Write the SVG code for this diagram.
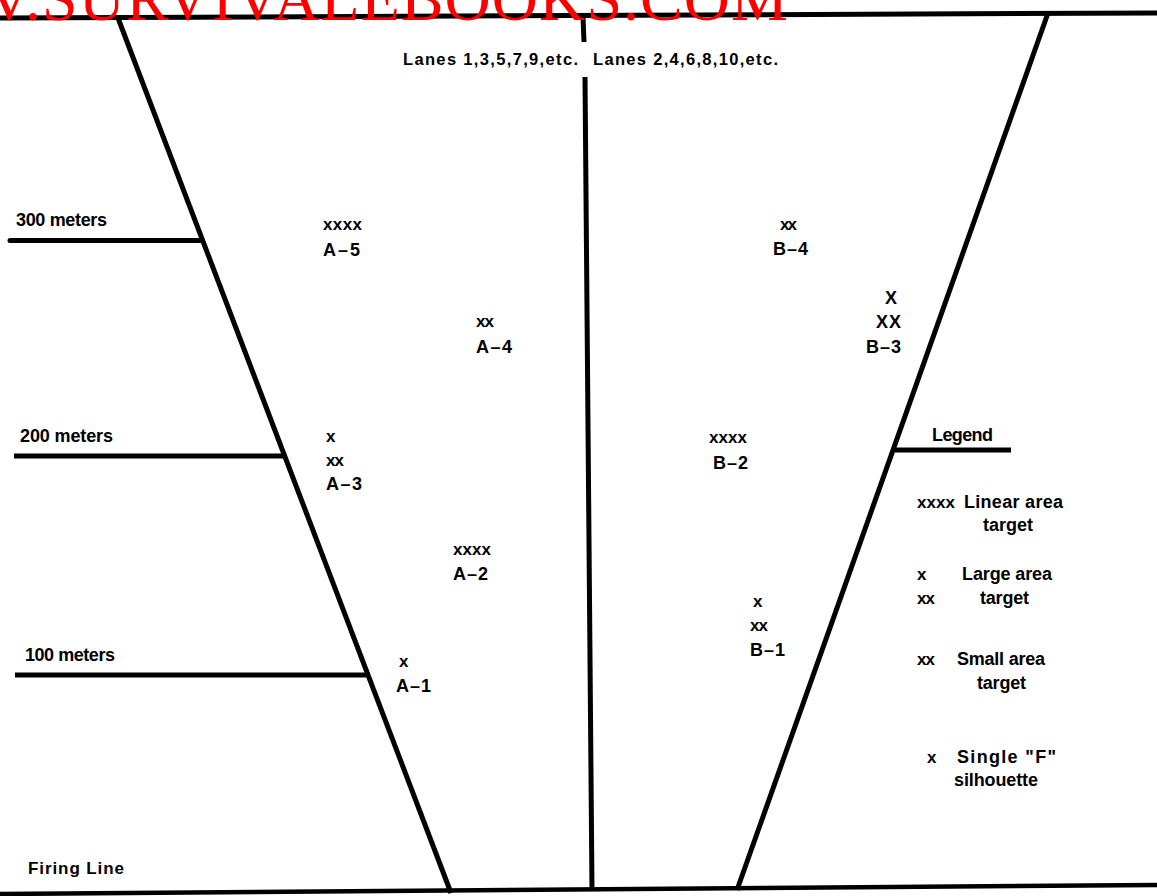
<svg xmlns="http://www.w3.org/2000/svg" width="1157" height="896" viewBox="0 0 1157 896">
<style>
.ln{stroke:#000;stroke-width:5;fill:none;stroke-linecap:butt}
.t{font-family:"Liberation Sans",Arial,sans-serif;font-weight:bold;fill:#000}
.l{font-size:18px}
.s{font-size:17px}
.ln2{font-size:16.5px}
.fl{font-size:17px}
.wm{font-family:"Liberation Serif","Times New Roman",serif;font-size:64px;fill:#ff0000}
</style>
<rect width="1157" height="896" fill="#fff"/>
<g id="frame">
<line class="ln" x1="0" y1="18" x2="1157" y2="13"/>
<line class="ln" x1="0" y1="894" x2="1157" y2="885" style="stroke-width:4.5"/>
<line class="ln" x1="118" y1="18" x2="451" y2="893"/>
<line class="ln" x1="1048" y1="13" x2="737" y2="890"/>
<line class="ln" x1="583" y1="17" x2="584" y2="42"/>
<line class="ln" x1="585" y1="77" x2="592" y2="890"/>
</g>
<g id="lanes">
<text class="t ln2" x="403" y="65" textLength="175" lengthAdjust="spacing">Lanes 1,3,5,7,9,etc.</text>
<text class="t ln2" x="593" y="65" textLength="185" lengthAdjust="spacing">Lanes 2,4,6,8,10,etc.</text>
</g>
<g id="range-300">
<line class="ln" x1="10" y1="240.5" x2="202" y2="240.5" style="stroke-linecap:round"/>
<text class="t l" x="16" y="226" textLength="91" lengthAdjust="spacing">300 meters</text>
</g>
<g id="range-200">
<line class="ln" x1="14" y1="456" x2="285" y2="456"/>
<text class="t l" x="20" y="442" textLength="93" lengthAdjust="spacing">200 meters</text>
</g>
<g id="range-100">
<line class="ln" x1="15" y1="675" x2="367" y2="675"/>
<text class="t l" x="25" y="661" textLength="90" lengthAdjust="spacing">100 meters</text>
</g>
<g id="firing-line">
<text class="t fl" x="28" y="874" textLength="96" lengthAdjust="spacing">Firing Line</text>
</g>
<g id="A5">
<text class="t s" x="323" y="230" textLength="39" lengthAdjust="spacing">xxxx</text>
<text class="t l" x="323" y="256" textLength="37" lengthAdjust="spacing">A–5</text>
</g>
<g id="A4">
<text class="t s" x="476" y="327" textLength="18" lengthAdjust="spacing">xx</text>
<text class="t l" x="476" y="353" textLength="36" lengthAdjust="spacing">A–4</text>
</g>
<g id="A3">
<text class="t s" x="326" y="442">x</text>
<text class="t s" x="326" y="466" textLength="18" lengthAdjust="spacing">xx</text>
<text class="t l" x="326" y="490" textLength="36" lengthAdjust="spacing">A–3</text>
</g>
<g id="A2">
<text class="t s" x="453" y="555" textLength="38" lengthAdjust="spacing">xxxx</text>
<text class="t l" x="453" y="580" textLength="35" lengthAdjust="spacing">A–2</text>
</g>
<g id="A1">
<text class="t s" x="399" y="667">x</text>
<text class="t l" x="396" y="692" textLength="35" lengthAdjust="spacing">A–1</text>
</g>
<g id="B4">
<text class="t s" x="780" y="230" textLength="17" lengthAdjust="spacing">xx</text>
<text class="t l" x="773" y="255" textLength="35" lengthAdjust="spacing">B–4</text>
</g>
<g id="B3">
<text class="t l" x="885" y="304">X</text>
<text class="t l" x="876" y="328" textLength="25" lengthAdjust="spacing">XX</text>
<text class="t l" x="866" y="353" textLength="35" lengthAdjust="spacing">B–3</text>
</g>
<g id="B2">
<text class="t s" x="709" y="443" textLength="38" lengthAdjust="spacing">xxxx</text>
<text class="t l" x="713" y="469" textLength="35" lengthAdjust="spacing">B–2</text>
</g>
<g id="B1">
<text class="t s" x="753" y="607">x</text>
<text class="t s" x="750" y="631" textLength="18" lengthAdjust="spacing">xx</text>
<text class="t l" x="750" y="656" textLength="35" lengthAdjust="spacing">B–1</text>
</g>
<g id="legend">
<line class="ln" x1="892" y1="450" x2="1011" y2="450"/>
<text class="t l" x="932" y="441" textLength="61" lengthAdjust="spacing">Legend</text>
<text class="t s" x="917" y="508" textLength="38" lengthAdjust="spacing">xxxx</text>
<text class="t l" x="964" y="508" textLength="99" lengthAdjust="spacing">Linear area</text>
<text class="t l" x="983" y="531" textLength="50" lengthAdjust="spacing">target</text>
<text class="t s" x="917" y="580">x</text>
<text class="t l" x="962" y="580" textLength="90" lengthAdjust="spacing">Large area</text>
<text class="t s" x="917" y="604" textLength="18" lengthAdjust="spacing">xx</text>
<text class="t l" x="980" y="604" textLength="49" lengthAdjust="spacing">target</text>
<text class="t s" x="917" y="665" textLength="18" lengthAdjust="spacing">xx</text>
<text class="t l" x="957" y="665" textLength="88" lengthAdjust="spacing">Small area</text>
<text class="t l" x="977" y="689" textLength="49" lengthAdjust="spacing">target</text>
<text class="t s" x="927" y="763">x</text>
<text class="t l" x="957" y="763" textLength="99" lengthAdjust="spacing">Single "F"</text>
<text class="t l" x="954" y="786" textLength="84" lengthAdjust="spacing">silhouette</text>
</g>
<g id="watermark">
<text class="wm" x="-14" y="20" textLength="802" lengthAdjust="spacing">V.SURVIVALEBOOKS.COM</text>
</g>
</svg>
